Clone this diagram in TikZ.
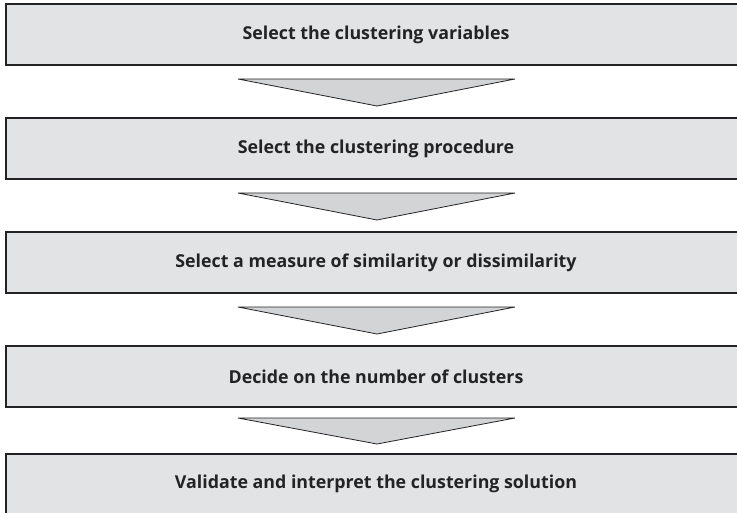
\documentclass[tikz,border=0pt]{standalone}
\usepackage{fontspec}
\setmainfont{Open Sans}
\usetikzlibrary{calc}

\definecolor{boxgray}{RGB}{226,227,229}
\definecolor{arrowgray}{RGB}{211,212,214}
\definecolor{edgedark}{RGB}{35,35,37}

\tikzset{
  stepbox/.style={rectangle, draw=edgedark, line width=2pt, fill=boxgray,
    minimum width=740pt, minimum height=61pt, inner sep=0pt,
    font=\fontsize{17.8}{20}\selectfont\bfseries, text=edgedark},
  downarrow/.style={draw=edgedark, line width=0.8pt, fill=arrowgray, line join=miter}
}

\begin{document}
\begin{tikzpicture}[x=1pt, y=-1pt]
    \path[use as bounding box] (0,0) rectangle (737,512);
    \clip (0,0) rectangle (737,512);
    \node[stepbox] (S1) at (376,34.5)  {Select the clustering variables};
    \node[stepbox] (S2) at (376,148.5) {Select the clustering procedure};
    \node[stepbox] (S3) at (376,262.5) {Select a measure of similarity or dissimilarity};
    \node[stepbox] (S4) at (376,376.5) {Decide on the number of clusters};
    \node[stepbox] (S5) at (376,484) {Validate and interpret the clustering solution};

    % Arrows between the steps
    \draw[downarrow] ($(S1.south)+(-138,13)$) -- ($(S1.south)+(139,13)$) -- ($(S1.south)+(1,40)$) -- cycle;
    \draw[downarrow] ($(S2.south)+(-138,13)$) -- ($(S2.south)+(139,13)$) -- ($(S2.south)+(1,40)$) -- cycle;
    \draw[downarrow] ($(S3.south)+(-138,13)$) -- ($(S3.south)+(139,13)$) -- ($(S3.south)+(1,40)$) -- cycle;
    \draw[downarrow] ($(S4.south)+(-138,10)$) -- ($(S4.south)+(139,10)$) -- ($(S4.south)+(1,36)$) -- cycle;

\end{tikzpicture}
\end{document}
